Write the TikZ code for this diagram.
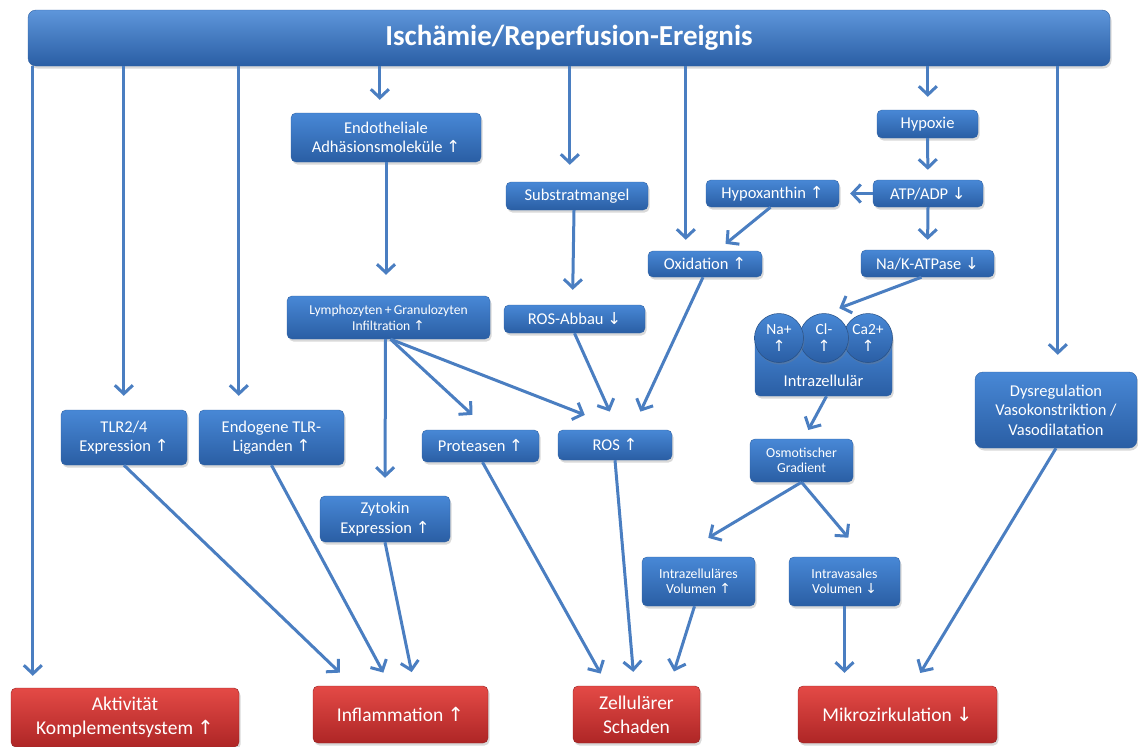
\documentclass[tikz,border=0pt]{standalone}
\usepackage{fontspec}
\setmainfont{Carlito}
\newfontfamily\symf[Scale=1.0]{DejaVu Sans}
\usetikzlibrary{arrows.meta,shadows,calc}
\definecolor{bxtop}{RGB}{72,136,214}
\definecolor{bxbot}{RGB}{42,94,164}
\definecolor{bxedge}{RGB}{48,98,164}
\definecolor{rdtop}{RGB}{228,74,70}
\definecolor{rdbot}{RGB}{174,38,38}
\definecolor{arrc}{RGB}{74,126,193}
\newcommand\UpA{{\symf ↑}}
\newcommand\DnA{{\symf ↓}}
\begin{document}
\begin{tikzpicture}[x=1pt,y=-1pt,
  sz/.style 2 args={minimum width=#1, minimum height=#2},
  bx/.style={rounded corners=5pt, top color=bxtop, bottom color=bxbot, draw=bxedge, line width=0.4pt,
    text=white, align=center, inner sep=1pt, font=\fontsize{16.5}{19.5}\selectfont,
    drop shadow={opacity=0.3, shadow xshift=1.5pt, shadow yshift=-2.5pt}},
  sm/.style={font=\fontsize{13.8}{15.5}\selectfont},
  rbx/.style={bx, top color=rdtop, bottom color=rdbot, draw=rdbot!85!black, font=\fontsize{19.5}{24}\selectfont},
  circ/.style={circle, top color=bxtop, bottom color=bxbot, draw=bxedge!80!black, line width=0.5pt,
    minimum size=49pt, inner sep=0pt, text=white, align=center, font=\fontsize{15.5}{17}\selectfont,
    drop shadow={opacity=0.3, shadow xshift=1pt, shadow yshift=-2pt}},
  arr/.style={draw=arrc, line width=3pt, -{Straight Barb[length=8.5pt,width=18pt]}, shorten >=14pt},
]
\useasboundingbox (0,0) rectangle (1138,747);

% top bar
\node[bx, sz={1082pt}{56pt}, rounded corners=8pt, top color=bxtop!88!white, bottom color=bxbot,
  font=\fontsize{29}{34}\selectfont\bfseries] (bar) at (569,38) {Ischämie/Reperfusion-Ereignis};

% boxes
\node[bx, sz={190pt}{49pt}] (endo) at (386,137.5) {Endotheliale\\Adhäsionsmoleküle \UpA};
\node[bx, sz={142pt}{28pt}] (substr) at (577,196) {Substratmangel};
\node[bx, sz={101pt}{28pt}] (hyp) at (927.5,124) {Hypoxie};
\node[bx, sz={110pt}{27pt}] (atp) at (928,193.5) {ATP/ADP \DnA};
\node[bx, sz={133pt}{27pt}] (hpx) at (772.5,193.5) {Hypoxanthin \UpA};
\node[bx, sz={114pt}{26pt}] (oxid) at (705,264) {Oxidation \UpA};
\node[bx, sz={133pt}{27pt}] (nak) at (927.5,263.5) {Na/K-ATPase \DnA};
\node[bx, sz={203pt}{43pt}, font=\fontsize{13.6}{16}\selectfont] (lymph) at (388.5,317.5) {Lymphozyten\,+\,Granulozyten\\Infiltration \UpA};
\node[bx, sz={141pt}{28pt}] (rosab) at (574.5,319) {ROS-Abbau \DnA};

% ion cluster
\node[bx, sz={137pt}{63pt}] (ions) at (823.5,364.5) {};
\node[circ] (ca) at (868,338) {Ca2+\\\UpA};
\node[circ] (cl) at (824,338) {Cl-\\\UpA};
\node[circ] (na) at (779,338) {Na+\\\UpA};
\node[text=white, font=\fontsize{16.5}{19}\selectfont, inner sep=0pt] (ionlbl) at (823.5,381) {Intrazellulär};

\node[bx, sm, sz={103pt}{43pt}] (osm) at (801.5,460.5) {Osmotischer\\Gradient};
\node[bx, sm, sz={113pt}{49pt}] (ivol) at (698.5,581.5) {Intrazelluläres\\Volumen \UpA};
\node[bx, sm, sz={111pt}{49pt}] (vvol) at (844.5,581.5) {Intravasales\\Volumen \DnA};
\node[bx, sz={162pt}{76pt}, rounded corners=8pt] (dys) at (1056,410) {Dysregulation\\Vasokonstriktion /\\Vasodilatation};
\node[bx, sz={126pt}{55pt}] (tlr) at (124,437.5) {TLR2/4\\Expression \UpA};
\node[bx, sz={145pt}{55pt}] (endg) at (271.5,437.5) {Endogene TLR-\\Liganden \UpA};
\node[bx, sz={117pt}{32pt}] (prot) at (480.5,446) {Proteasen \UpA};
\node[bx, sz={114pt}{30pt}] (ros) at (615,445) {ROS \UpA};
\node[bx, sz={130pt}{46pt}] (zyt) at (385,519) {Zytokin\\Expression \UpA};

% outcome boxes
\node[rbx, sz={228pt}{59pt}] (akt) at (125,717.5) {Aktivität\\Komplementsystem \UpA};
\node[rbx, sz={175pt}{57pt}] (infl) at (400.5,714.5) {Inflammation \UpA};
\node[rbx, sz={127pt}{57pt}] (zell) at (636.5,714.5) {Zellulärer\\Schaden};
\node[rbx, sz={199pt}{57pt}] (mikro) at (897.5,714.5) {Mikrozirkulation \DnA};

% start points on the bar
\coordinate (s33) at ([xshift=5pt]bar.south west);
\coordinate (s124) at ([xshift=96pt]bar.south west);
\coordinate (s239) at ([xshift=211pt]bar.south west);
\coordinate (s380) at ([xshift=352pt]bar.south west);
\coordinate (s570) at ([xshift=542pt]bar.south west);
\coordinate (s686) at ([xshift=658pt]bar.south west);
\coordinate (s928) at ([xshift=900pt]bar.south west);
\coordinate (s1058) at ([xshift=1030pt]bar.south west);

% connectors from the bar
\draw[arr, shorten >=12pt] (s33) -- (s33 |- akt.north);
\draw[arr] (s124) -- (s124 |- tlr.north);
\draw[arr] (s239) -- (s239 |- endg.north);
\draw[arr, shorten >=13pt] (s380) -- (s380 |- endo.north);
\draw[arr, shorten >=17pt] (s570) -- (s570 |- substr.north);
\draw[arr, shorten >=11pt] (s686) -- (s686 |- oxid.north);
\draw[arr, shorten >=13pt] (s928) -- (s928 |- hyp.north);
\draw[arr, shorten >=17pt] (s1058) -- (s1058 |- dys.north);

% inner connectors
\draw[arr, shorten >=21pt] (endo.south) -- (endo.south |- lymph.north);
\draw[arr, shorten >=15pt] ([xshift=-3pt]substr.south) -- ([xshift=-2pt]rosab.north);
\draw[arr, shorten >=10pt] (hyp.south) -- (atp.north);
\draw[arr, shorten >=11pt] (atp.west) -- (hpx.east);
\draw[arr, shorten >=10pt] (atp.south) -- (nak.north);
\draw[arr, shorten >=11pt] ([xshift=-2pt]hpx.south) -- ([xshift=12pt]oxid.north);
\draw[arr, shorten >=35pt] ([xshift=-6pt]nak.south) -- (cl.135);
\draw[arr, shorten >=20pt] ([xshift=-2pt]oxid.south) -- ([xshift=17pt]ros.north);
\draw[arr, shorten >=20pt] (rosab.south) -- ([xshift=3pt]ros.north);
\draw[arr, shorten >=18pt] ([xshift=-3pt]lymph.south) -- (zyt.north);
\draw[arr, shorten >=22pt] ([xshift=2pt]lymph.south) -- ([xshift=8pt]prot.north);
\draw[arr, shorten >=41pt] ([xshift=2pt]lymph.south) -- ([xshift=8pt]ros.north);
\draw[arr, shorten >=10pt] ([xshift=3pt]ions.south) -- ([xshift=2pt]osm.north);
\draw[arr, shorten >=37pt] (osm.south) -- ([xshift=-22pt]ivol.north);
\draw[arr, shorten >=25pt] (osm.south) -- ([xshift=20pt]vvol.north);
\draw[arr, shorten >=13pt] (vvol.south) -- (vvol.south |- mikro.north);
\draw[arr, shorten >=15pt] ([xshift=-4pt]ivol.south) -- ([xshift=33pt]zell.north);
\draw[arr] (ros.south) -- ([xshift=-2pt]zell.north);
\draw[arr] ([xshift=2pt]prot.south) -- ([xshift=-29pt]zell.north);
\draw[arr] (zyt.south) -- ([xshift=14pt]infl.north);
\draw[arr, shorten >=15pt] (endg.south) -- ([xshift=-10pt]infl.north);
\draw[arr, shorten >=19pt] (tlr.south) -- ([xshift=-47pt]infl.north);
\draw[arr, shorten >=15pt] (dys.south) -- ([xshift=15pt]mikro.north);
\end{tikzpicture}
\end{document}
